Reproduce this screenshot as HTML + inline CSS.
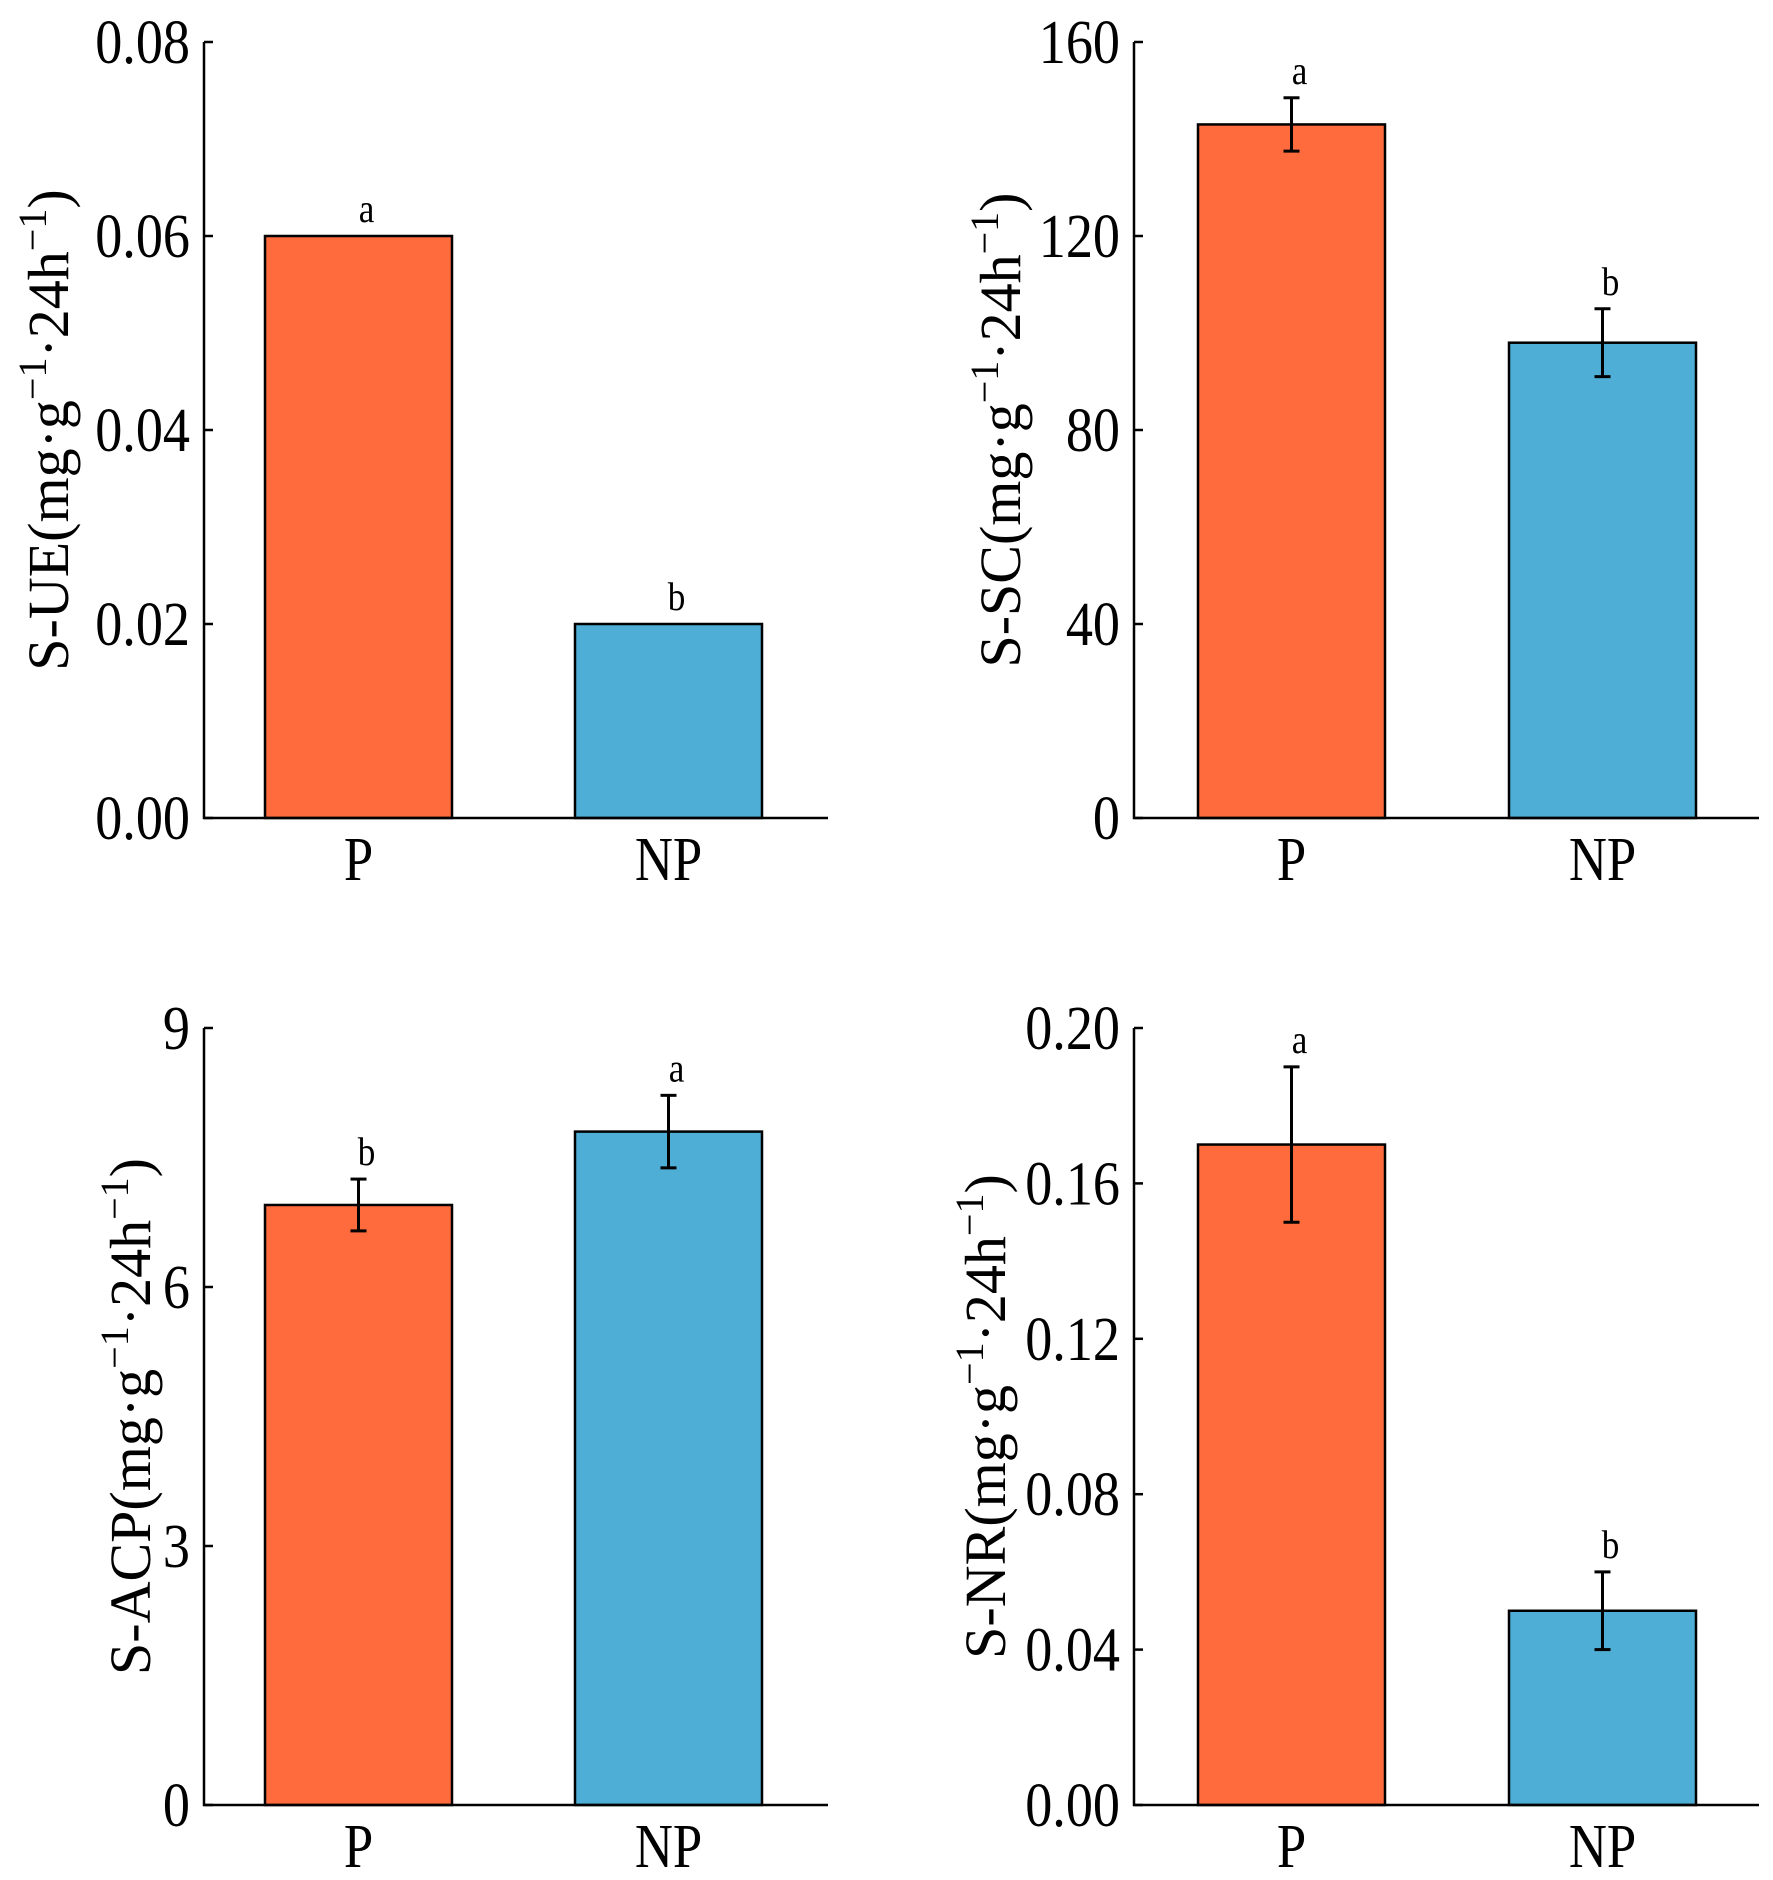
<!DOCTYPE html>
<html><head><meta charset="utf-8">
<style>
html,body{margin:0;padding:0;background:#fff;}
svg{display:block;font-family:"Liberation Serif","Times New Roman",serif;}
</style></head>
<body>
<svg id="chart" width="1773" height="1880" viewBox="0 0 1773 1880" xmlns="http://www.w3.org/2000/svg"></svg>
<script>
const categories = ["P", "NP"];
const ueValues = [0.06, 0.02];
const ueErrors = [0, 0];
const ueLetters = ["a", "b"];
const ueTicks = ["0.00", "0.02", "0.04", "0.06", "0.08"];
const scValues = [143, 98];
const scErrors = [5.5, 7];
const scLetters = ["a", "b"];
const scTicks = ["0", "40", "80", "120", "160"];
const acpValues = [6.95, 7.8];
const acpErrors = [0.3, 0.42];
const acpLetters = ["b", "a"];
const acpTicks = ["0", "3", "6", "9"];
const nrValues = [0.17, 0.05];
const nrErrors = [0.02, 0.01];
const nrLetters = ["a", "b"];
const nrTicks = ["0.00", "0.04", "0.08", "0.12", "0.16", "0.20"];
const colors = ["#FF6B3D", "#4FAED5"];

const NS = "http://www.w3.org/2000/svg";
const svg = document.getElementById("chart");
function mk(tag, attrs, parent) {
  const e = document.createElementNS(NS, tag);
  for (const k in attrs) e.setAttribute(k, attrs[k]);
  (parent || svg).appendChild(e);
  return e;
}
function ctext(parent, x, y, size, anchor, str, sx) {
  const t = mk("text", {transform:`translate(${x},${y}) scale(${sx},1)`, x:0, y:0, "font-size":size, "text-anchor":anchor}, parent);
  t.textContent = str;
  return t;
}

const panels = [
  {id:"ue", name:"S-UE", vals:ueValues, errs:ueErrors, letters:ueLetters, ticks:ueTicks, x0:204, x1:828, y0:42, y1:818, labelX:48, barL:[265,575]},
  {id:"sc", name:"S-SC", vals:scValues, errs:scErrors, letters:scLetters, ticks:scTicks, x0:1134, x1:1759, y0:42, y1:818, labelX:1000, barL:[1198,1509]},
  {id:"acp", name:"S-ACP", vals:acpValues, errs:acpErrors, letters:acpLetters, ticks:acpTicks, x0:204, x1:828, y0:1028, y1:1805, labelX:130, barL:[265,575]},
  {id:"nr", name:"S-NR", vals:nrValues, errs:nrErrors, letters:nrLetters, ticks:nrTicks, x0:1134, x1:1759, y0:1028, y1:1805, labelX:985, barL:[1198,1509]}
];

panels.forEach(p => {
  const g = mk("g", {});
  
  
  const tmin = parseFloat(p.ticks[0]), tmax = parseFloat(p.ticks[p.ticks.length-1]);
  const y = v => p.y1 - (v - tmin) / (tmax - tmin) * (p.y1 - p.y0);
  const barW = 187;
  p.vals.forEach((v, i) => {
    const bx = p.barL[i];
    const r = mk("rect", {x:bx, y:y(v), width:barW, height:p.y1 - y(v), fill:colors[i], stroke:"#000", "stroke-width":2.5}, g);
    
    
    const cx = bx + barW/2;
    let top = y(v);
    if (p.errs[i] > 0) {
      const eg = mk("g", {stroke:"#000", "stroke-width":3}, g);
      
      
      mk("line", {x1:cx, x2:cx, y1:y(v + p.errs[i]), y2:y(v - p.errs[i])}, eg);
      mk("line", {x1:cx-8, x2:cx+8, y1:y(v + p.errs[i]), y2:y(v + p.errs[i])}, eg);
      mk("line", {x1:cx-8, x2:cx+8, y1:y(v - p.errs[i]), y2:y(v - p.errs[i])}, eg);
      top = y(v + p.errs[i]);
    }
    const t = ctext(g, cx + 8, top - 14, 40, "middle", p.letters[i], 0.88);
    
    
    const xl = ctext(g, cx, p.y1 + 62, 62, "middle", categories[i], 0.85);
    
    
  });
  const ax = mk("path", {d:`M${p.x0},${p.y0} V${p.y1} H${p.x1}`, fill:"none", stroke:"#000", "stroke-width":2.5}, g);
  
  
  p.ticks.forEach(tk => {
    const ty = y(parseFloat(tk));
    mk("line", {x1:p.x0, x2:p.x0+9, y1:ty, y2:ty, stroke:"#000", "stroke-width":2.5}, g);
    const t = ctext(g, p.x0 - 14, ty + 21, 63, "end", tk, 0.86);
    
    
  });
  const cy = (p.y0 + p.y1) / 2;
  const lab = mk("text", {transform:`translate(${p.labelX + 20},${cy}) rotate(-90)`, "font-size":58, "text-anchor":"middle"}, g);
  
  
  const parts = [[p.name + "(mg·g", 0], ["−1", -22], ["·24h", 22], ["−1", -22], [")", 22]];
  parts.forEach(([s, dy], k) => {
    const ts = mk("tspan", {dy:dy, "font-size": (k===1||k===3)?40:58}, lab);
    ts.textContent = s;
  });
});
</script>
</body></html>
